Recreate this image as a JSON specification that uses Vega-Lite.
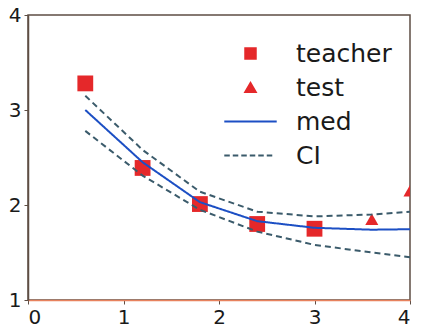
{
  "$schema": "https://vega.github.io/schema/vega-lite/v6.json",
  "width": 382,
  "height": 285,
  "autosize": {"type": "none"},
  "padding": {"left": 28, "top": 15, "right": 13, "bottom": 33},
  "background": "white",
  "config": {
    "view": {"stroke": "#5e4e44", "strokeWidth": 1.5},
    "font": "DejaVu Sans",
    "axis": {
      "grid": false,
      "title": null,
      "labelFont": "DejaVu Sans",
      "labelFontSize": 20,
      "labelColor": "#1a1a1a",
      "tickColor": "#5e4e44",
      "tickSize": 4,
      "domainWidth": 1.5
    }
  },
  "datasets": {
    "pts": [
      {"x": 0.6, "y": 3.28, "series": "teacher"},
      {"x": 1.2, "y": 2.39, "series": "teacher"},
      {"x": 1.8, "y": 2.01, "series": "teacher"},
      {"x": 2.4, "y": 1.80, "series": "teacher"},
      {"x": 3.0, "y": 1.75, "series": "teacher"},
      {"x": 3.6, "y": 1.85, "series": "test"},
      {"x": 4.0, "y": 2.15, "series": "test"}
    ],
    "curves": [
      {"x": 0.6, "y": 3.00, "series": "med", "band": "med"},
      {"x": 1.2, "y": 2.45, "series": "med", "band": "med"},
      {"x": 1.8, "y": 2.03, "series": "med", "band": "med"},
      {"x": 2.4, "y": 1.83, "series": "med", "band": "med"},
      {"x": 3.0, "y": 1.76, "series": "med", "band": "med"},
      {"x": 3.6, "y": 1.74, "series": "med", "band": "med"},
      {"x": 4.0, "y": 1.745, "series": "med", "band": "med"},
      {"x": 0.6, "y": 3.15, "series": "CI", "band": "upper"},
      {"x": 1.2, "y": 2.58, "series": "CI", "band": "upper"},
      {"x": 1.8, "y": 2.14, "series": "CI", "band": "upper"},
      {"x": 2.4, "y": 1.93, "series": "CI", "band": "upper"},
      {"x": 3.0, "y": 1.88, "series": "CI", "band": "upper"},
      {"x": 3.6, "y": 1.90, "series": "CI", "band": "upper"},
      {"x": 4.0, "y": 1.93, "series": "CI", "band": "upper"},
      {"x": 0.6, "y": 2.78, "series": "CI", "band": "lower"},
      {"x": 1.2, "y": 2.31, "series": "CI", "band": "lower"},
      {"x": 1.8, "y": 1.95, "series": "CI", "band": "lower"},
      {"x": 2.4, "y": 1.72, "series": "CI", "band": "lower"},
      {"x": 3.0, "y": 1.58, "series": "CI", "band": "lower"},
      {"x": 3.6, "y": 1.50, "series": "CI", "band": "lower"},
      {"x": 4.0, "y": 1.45, "series": "CI", "band": "lower"}
    ]
  },
  "encoding": {
    "x": {
      "field": "x", "type": "quantitative",
      "scale": {"domain": [0, 4], "nice": false, "zero": false},
      "axis": {"values": [0, 1, 2, 3, 4], "format": "d", "domainColor": "#e8825e", "labelPadding": 3}
    },
    "y": {
      "field": "y", "type": "quantitative",
      "scale": {"domain": [1, 4], "nice": false, "zero": false},
      "axis": {"values": [1, 2, 3, 4], "format": "d", "domainColor": "#5e4e44", "labelPadding": 3}
    }
  },
  "layer": [
    {
      "data": {"name": "pts"},
      "mark": {"type": "point", "filled": true, "opacity": 1, "clip": true},
      "encoding": {
        "color": {
          "field": "series", "type": "nominal",
          "scale": {"domain": ["teacher", "test", "med", "CI"], "range": ["#e5282a", "#e5282a", "#1c4fc4", "#3b5b6b"]},
          "legend": {
            "title": null,
            "orient": "none",
            "legendX": 210,
            "legendY": 26,
            "padding": 0,
            "symbolSize": 110,
            "labelFont": "DejaVu Sans",
            "labelFontSize": 25,
            "labelColor": "#1a1a1a",
            "labelOffset": 33,
            "rowPadding": 8,
            "symbolOpacity": 1,
            "encode": {"symbols": {"update": {"stroke": {"scale": "color", "field": "value"}, "strokeWidth": {"value": 2}}}}
          }
        },
        "shape": {
          "field": "series", "type": "nominal",
          "scale": {
            "domain": ["teacher", "test", "med", "CI"],
            "range": ["square", "triangle-up", "M-5,0H5", "M-5,0H-3.95M-3.38,0H-2.33M-1.76,0H-0.71M-0.14,0H0.91M1.48,0H2.53M3.1,0H4.15"]
          }
        },
        "size": {
          "field": "series", "type": "nominal",
          "scale": {"domain": ["teacher", "test"], "range": [250, 170]},
          "legend": null
        }
      }
    },
    {
      "data": {"name": "curves"},
      "mark": {"type": "line", "strokeWidth": 2, "clip": true},
      "encoding": {
        "color": {"field": "series", "type": "nominal"},
        "detail": {"field": "band", "type": "nominal"},
        "strokeDash": {
          "field": "series", "type": "nominal",
          "scale": {"domain": ["med", "CI"], "range": [[1, 0], [6, 4]]},
          "legend": null
        }
      }
    }
  ]
}
